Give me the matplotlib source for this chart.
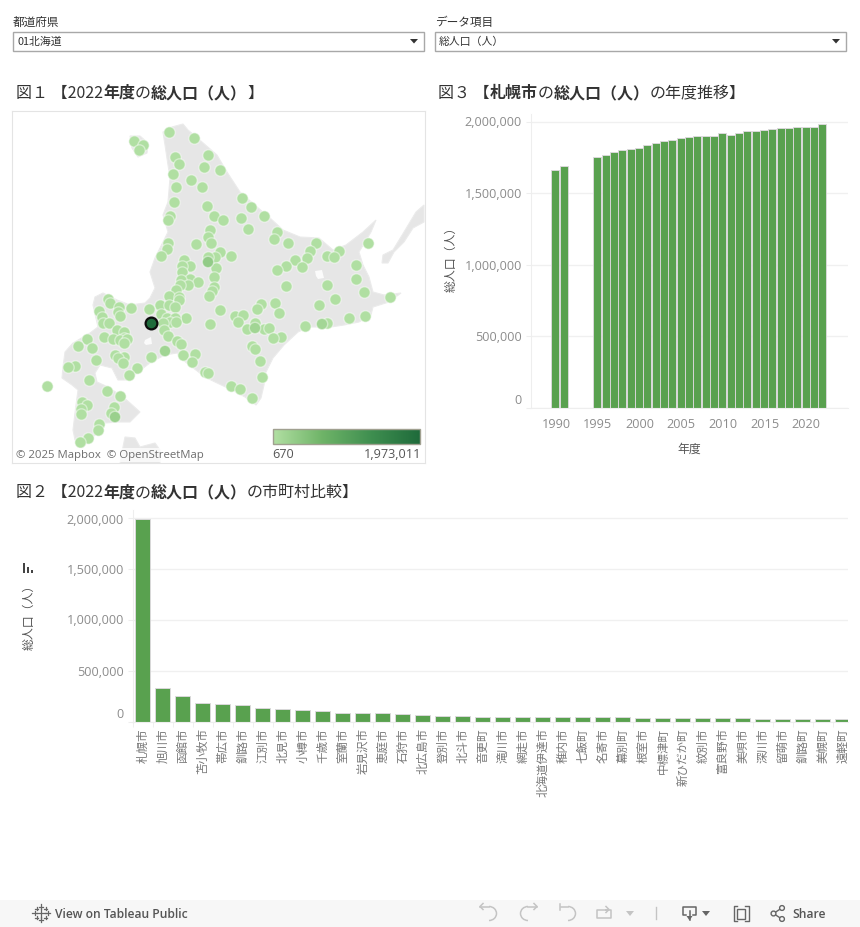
import numpy as np
import matplotlib
matplotlib.use('Agg')
import matplotlib.pyplot as plt
from matplotlib.colors import LinearSegmentedColormap, Normalize
from matplotlib.patches import Polygon, Rectangle, Arc, Circle
from matplotlib.transforms import blended_transform_factory

plt.rcParams['font.family'] = ['Noto Sans CJK JP', 'DejaVu Sans']

W, H = 860, 927
GREEN = '#59a14f'
TICK_FONT = ['Open Sans', 'Noto Sans CJK JP']
DARK = '#333333'

# ---- data ----
years = [1990, 1991, 1995, 1996, 1997, 1998, 1999, 2000, 2001, 2002, 2003, 2004, 2005, 2006, 2007, 2008,
         2009, 2010, 2011, 2012, 2013, 2014, 2015, 2016, 2017, 2018, 2019, 2020, 2021, 2022]
year_pop = [1652000, 1680000, 1743000, 1762000, 1778000, 1792000, 1799000, 1806000, 1827000, 1841000,
            1855000, 1862000, 1876000, 1883000, 1890000, 1890000, 1890000, 1911000, 1897000, 1911000,
            1925000, 1925000, 1932000, 1939000, 1946000, 1946000, 1953000, 1953000, 1953000, 1973011]

cities = ['札幌市', '旭川市', '函館市', '苫小牧市', '帯広市', '釧路市', '江別市', '北見市', '小樽市', '千歳市',
          '室蘭市', '岩見沢市', '恵庭市', '石狩市', '北広島市', '登別市', '北斗市', '音更町', '滝川市', '網走市',
          '北海道伊達市', '稚内市', '七飯町', '名寄市', '幕別町', '根室市', '中標津町', '新ひだか町', '紋別市',
          '富良野市', '美唄市', '深川市', '留萌市', '釧路町', '美幌町', '遠軽町']
city_pop = [1973011, 323000, 243000, 167000, 165000, 155000, 118000, 114000, 106000, 96000,
            78000, 77000, 69000, 59000, 56000, 46000, 45000, 38000, 38000, 33000,
            32000, 32000, 31000, 31000, 30000, 23000, 23000, 22000, 21000,
            20000, 20000, 19000, 19000, 19000, 18000, 18000]

town_x = [169, 194, 134, 143, 139, 208, 175, 179, 204, 220, 173, 191, 202, 176, 242, 251, 174, 207, 264, 214,
          223, 241, 170, 168, 248, 210, 277, 208, 274, 211, 168, 196, 288, 316, 368, 167, 310, 339, 220, 161,
          231, 327, 334, 215, 208, 307, 184, 295, 356, 286, 190, 182, 302, 216, 277, 182, 214, 356, 190, 181,
          198, 188, 180, 214, 286, 327, 212, 176, 364, 169, 209, 179, 390, 335, 108, 179, 110, 160, 169, 175,
          275, 261, 257, 319, 119, 131, 149, 220, 99, 118, 279, 161, 120, 235, 243, 102, 349, 365, 186, 167,
          175, 238, 170, 176, 255, 103, 109, 163, 210, 327, 305, 247, 264, 269, 117, 164, 124, 168, 104, 281,
          273, 113, 124, 87, 120, 127, 124, 177, 181, 78, 92, 252, 255, 195, 115, 124, 183, 151, 118, 96,
          260, 192, 123, 75, 68, 137, 205, 208, 129, 262, 89, 231, 47, 240, 107, 120, 252, 82, 87, 114,
          81, 111, 81, 99, 98, 88, 80]
town_y = [132, 138, 141, 145, 150, 155, 157, 164, 167, 170, 174, 180, 187, 187, 198, 207, 202, 206, 216, 216,
          220, 218, 216, 220, 229, 230, 232, 237, 239, 243, 243, 244, 243, 243, 243, 249, 251, 251, 252, 256,
          256, 256, 257, 257, 257, 258, 260, 260, 265, 266, 266, 266, 267, 268, 270, 272, 277, 279, 279, 280,
          282, 285, 285, 287, 286, 285, 291, 290, 292, 296, 296, 297, 297, 299, 299, 300, 303, 305, 305, 307,
          303, 304, 309, 305, 307, 308, 309, 310, 311, 312, 313, 314, 316, 316, 315, 317, 318, 316, 318, 318,
          318, 322, 322, 322, 323, 323, 323, 323, 324, 323, 326, 329, 329, 328, 330, 330, 332, 336, 337, 337,
          338, 339, 338, 339, 340, 339, 343, 341, 344, 346, 348, 346, 349, 354, 355, 357, 355, 357, 358, 360,
          361, 362, 363, 366, 367, 368, 372, 373, 375, 377, 380, 386, 386, 389, 391, 396, 398, 402, 405, 407,
          409, 413, 414, 424, 430, 438, 442]
town_pop = 20000

big_x = [208, 115, 165, 255, 322]
big_y = [262, 417, 351, 328, 324]
big_pop = [320000, 240000, 165000, 163000, 153000]
sapporo_x, sapporo_y = [151], [323]
sapporo_pop = [1973011]

land_x = [183, 188, 202, 217, 227, 240, 257, 270, 283, 300, 319, 333, 346, 363, 376, 371, 359, 363, 369, 373,
          384, 401, 389, 373, 371, 359, 344, 331, 309, 298, 284, 273, 266, 264, 261, 256, 245, 232, 215, 205,
          192, 183, 177, 165, 151, 137, 128, 118, 112, 100, 95, 97, 108, 123, 130, 140, 130, 118, 105, 97,
          82, 75, 73, 75, 78, 72, 62, 63, 65, 73, 90, 98, 93, 95, 103, 117, 130, 145, 150, 155,
          150, 155, 163, 168, 163, 168, 170, 168, 165, 163, 172]
land_y = [124, 130, 142, 155, 172, 192, 207, 218, 230, 237, 238, 250, 245, 232, 220, 232, 252, 265, 277, 292,
          295, 293, 302, 307, 315, 322, 325, 327, 327, 332, 345, 358, 372, 385, 398, 405, 397, 390, 382, 377,
          367, 360, 353, 355, 362, 373, 380, 380, 368, 365, 373, 382, 387, 397, 403, 412, 422, 422, 423, 433,
          448, 440, 430, 413, 390, 385, 378, 367, 352, 343, 333, 327, 305, 297, 293, 300, 305, 303, 298, 288,
          272, 258, 242, 232, 215, 202, 178, 165, 145, 132, 127]
kunashiri_x = [424, 416, 404, 393, 383, 382, 388, 394, 404, 413, 424]
kunashiri_y = [205, 212, 232, 250, 255, 263, 263, 252, 242, 228, 222]
aomori_x = [123, 125, 135, 140, 155, 160, 160, 120]
aomori_y = [447, 437, 438, 447, 443, 450, 464, 464]
rishiri_x = [130, 140, 148, 147, 138, 132]
rishiri_y = [136, 136, 143, 153, 157, 148]
# lakes on the land
shikotsu_x = [145, 151, 152, 146, 144]
shikotsu_y = [340, 337, 344, 345, 343]
kussharo_x = [315, 322, 324, 318, 316]
kussharo_y = [271, 270, 278, 279, 276]

# ---- helpers ----
fig = plt.figure(figsize=(W / 100, H / 100), dpi=100, facecolor='white')


def px_axes(x0, y0, x1, y1, **kw):
    return fig.add_axes([x0 / W, 1 - y1 / H, (x1 - x0) / W, (y1 - y0) / H], **kw)


ui = px_axes(0, 0, W, H)
ui.set_xlim(0, W)
ui.set_ylim(H, 0)
ui.axis('off')
ui.set_zorder(5)
ui.patch.set_alpha(0)


def rich_title(x, y, pieces, size=11.5):
    renderer = fig.canvas.get_renderer()
    for s, bold in pieces:
        t = ui.text(x, y, s, fontsize=size, color=DARK, va='center', ha='left',
                    fontweight='bold' if bold else 'normal')
        bb = t.get_window_extent(renderer)
        x += bb.width


def dropdown(x0, x1, label, value):
    ui.text(x0, 22, label, fontsize=8.4, color=DARK, va='center')
    ui.add_patch(Rectangle((x0, 31.5), x1 - x0 + 0.4, 19, fc='white', ec='#a8a8a8', lw=1))
    ui.text(x0 + 4, 42, value, fontsize=7.8, color=DARK, va='center')
    ui.add_patch(Polygon([(x1 - 14, 39), (x1 - 6, 39), (x1 - 10, 43.5)], fc='#333333', ec='none'))


def style_bar_axes(ax, ticks, labels, top_shift=0.0):
    for s in ['top', 'right']:
        ax.spines[s].set_visible(False)
    for s in ['left', 'bottom']:
        ax.spines[s].set_color('#eeeeee')
    ax.set_axisbelow(True)
    ax.yaxis.grid(True, color='#f0f0f0', lw=1)
    ax.set_yticks(ticks)
    ax.set_yticklabels(labels, fontsize=9.1, color='#8c8c8c', family=TICK_FONT)
    ax.tick_params(axis='y', length=3.5, color='#eeeeee', pad=2.5)
    tr = blended_transform_factory(ax.transAxes, ax.transData)
    ax.annotate('0', xy=(0, 0), xycoords=tr, xytext=(-6.2, 0.6), textcoords='offset points', ha='right',
                va='bottom', fontsize=9.1, color='#8c8c8c', family=TICK_FONT)
    ax.annotate('2,000,000', xy=(0, ticks[-1]), xycoords=tr, xytext=(-6.2, -top_shift), textcoords='offset points',
                ha='right', va='center', fontsize=9.1, color='#8c8c8c', family=TICK_FONT)


def bordered_bars(ax, x, y, width):
    # border drawn first so very short bars still show their green fill on top
    ax.bar(x, y, width=width, color='#d4d4d4', edgecolor='#d4d4d4', linewidth=1.3)
    ax.bar(x, y, width=width, color=GREEN, edgecolor='none')


pop_ticks = [0, 500000, 1000000, 1500000, 2000000]
pop_labels = ['', '500,000', '1,000,000', '1,500,000', '']

# ---- dropdowns and titles ----
dropdown(13, 424, '都道府県', '01北海道')
dropdown(435, 846, 'データ項目', '総人口（人）')
rich_title(16, 93, [('図１ 【2022', False), ('年度', True), ('の', False), ('総人口（人）', True), ('】', False)])
rich_title(438, 93, [('図３ 【', False), ('札幌市', True), ('の', False), ('総人口（人）', True), ('の年度推移】', False)])
rich_title(16, 492.5, [('図２ 【2022', False), ('年度', True), ('の', False), ('総人口（人）', True), ('の市町村比較】', False)])

# ---- map ----
cmap = LinearSegmentedColormap.from_list('pop', ['#b2e0a3', '#6fb468', '#3f8f50', '#1f6b3b'])
norm = Normalize(670, 1973011)
mp = px_axes(12, 111, 425, 463)
mp.set_xlim(12, 425)
mp.set_ylim(463, 111)
mp.set_xticks([])
mp.set_yticks([])
for s in mp.spines.values():
    s.set_color('#e4e4e4')
for lx, ly in [(land_x, land_y), (kunashiri_x, kunashiri_y), (aomori_x, aomori_y), (rishiri_x, rishiri_y)]:
    mp.add_patch(Polygon(np.column_stack([lx, ly]), fc='#e6e6e6', ec='#ebebeb', lw=0.8))
for lx, ly in [(shikotsu_x, shikotsu_y), (kussharo_x, kussharo_y)]:
    mp.add_patch(Polygon(np.column_stack([lx, ly]), fc='#fbfbfb', ec='none'))
halo = (1, 1, 1, 0.45)
mp.scatter(town_x, town_y, s=67, color=cmap(norm(town_pop)), edgecolors=halo, linewidths=1.0, zorder=3)
mp.scatter(big_x, big_y, s=67, c=big_pop, cmap=cmap, norm=norm, edgecolors=halo, linewidths=1.0, zorder=4)
mp.scatter(sapporo_x, sapporo_y, s=72, c=sapporo_pop, cmap=cmap, norm=norm, edgecolors='#0d0d0d',
           linewidths=1.6, zorder=5)

# map legend and credit
ui.imshow(np.linspace(0, 1, 256)[None, :], cmap=cmap, extent=(273, 420, 444, 429), aspect='auto', zorder=2)
ui.set_xlim(0, W)
ui.set_ylim(H, 0)
ui.add_patch(Rectangle((273, 429), 147, 15, fc='none', ec='#a0a090', lw=1, zorder=3))
ui.text(272.5, 454.5, '670', fontsize=9.1, color='#555555', va='center', family=TICK_FONT)
ui.text(421, 454.5, '1,973,011', fontsize=9.1, color='#555555', va='center', ha='right', family=TICK_FONT)
ui.add_patch(Rectangle((14, 448), 190, 13.5, fc='white', ec='none', alpha=0.75, zorder=2))
ui.text(16, 455, '© 2025 Mapbox  © OpenStreetMap', fontsize=8.2, color='#6e6e6e', va='center',
        family=TICK_FONT, zorder=3)

# ---- figure 3: yearly trend ----
ax3 = px_axes(530.5, 114, 848, 407.5)
bordered_bars(ax3, years, year_pop, 0.84)
ax3.set_xlim(1986.95, 2025)
ax3.set_ylim(0, 2000000 * (407.5 - 114) / (407.5 - 121.5))
style_bar_axes(ax3, pop_ticks, pop_labels, top_shift=0.6)
ax3.set_xticks([1990, 1995, 2000, 2005, 2010, 2015, 2020])
ax3.set_xticklabels(['1990', '1995', '2000', '2005', '2010', '2015', '2020'], fontsize=9.1, color='#8c8c8c',
                    family=TICK_FONT)
ax3.tick_params(axis='x', length=0, pad=7.5)
ui.text(689, 449, '年度', fontsize=8.6, color='#555555', ha='center', va='center')
ui.text(451, 256, '総人口（人）', fontsize=8.6, color='#555555', ha='center', va='center', rotation=90)

# ---- figure 2: municipalities ----
ax2 = px_axes(132.5, 510, 848, 721.5)
pos = np.arange(len(cities))
bordered_bars(ax2, pos, city_pop, 0.74)
ax2.set_xlim(-0.525, 35.25)
ax2.set_ylim(0, 2000000 * (721.5 - 510) / (721.5 - 517.5))
style_bar_axes(ax2, pop_ticks, pop_labels, top_shift=2.0)
ax2.set_xticks(pos)
ax2.set_xticklabels(cities, rotation=90, fontsize=8.3, color='#777777')
ax2.tick_params(axis='x', length=0, pad=5)
ax2.set_xticks(pos - 0.5, minor=True)
ax2.tick_params(axis='x', which='minor', length=3.5, color='#eeeeee')
ui.text(29, 614, '総人口（人）', fontsize=8.6, color='#555555', ha='center', va='center', rotation=90)
# sort icon next to the axis title
ui.add_patch(Rectangle((23, 563), 2, 10, fc='#444444', ec='none'))
ui.add_patch(Rectangle((27, 567), 2, 6, fc='#444444', ec='none'))
ui.add_patch(Rectangle((31, 570), 2, 3, fc='#444444', ec='none'))

# ---- toolbar ----
ui.add_patch(Rectangle((0, 900), W, 27, fc='#f7f7f7', ec='none', zorder=1))
GR = '#666666'
LG = '#c4c4c4'
# tableau cross logo
for cx, cy, r in [(41, 913, 4.5), (41, 906.5, 2.2), (41, 919.5, 2.2), (34.5, 913, 2.2), (47.5, 913, 2.2),
                  (36.5, 908.5, 1.6), (45.5, 908.5, 1.6), (36.5, 917.5, 1.6), (45.5, 917.5, 1.6)]:
    ui.plot([cx - r, cx + r], [cy, cy], color=GR, lw=0.9, zorder=3)
    ui.plot([cx, cx], [cy - r, cy + r], color=GR, lw=0.9, zorder=3)
ui.text(55, 914, 'View on Tableau Public', fontsize=8.7, color='#555555', va='center', family=TICK_FONT,
        fontweight='semibold', zorder=3)
ui.text(792, 914, 'Share', fontsize=8.7, color='#555555', va='center', family=TICK_FONT,
        fontweight='semibold', zorder=3)
# undo / redo / revert / refresh
ui.add_patch(Arc((489, 913.5), 15, 14, theta1=-90, theta2=90, ec=LG, lw=1.1, zorder=3))
ui.plot([480, 489], [906.5, 906.5], color=LG, lw=1.1, zorder=3)
ui.plot([483, 480, 483], [903.5, 906.5, 909.5], color=LG, lw=1.1, zorder=3)
ui.add_patch(Arc((528, 913.5), 15, 14, theta1=90, theta2=270, ec=LG, lw=1.1, zorder=3))
ui.plot([528, 537], [906.5, 906.5], color=LG, lw=1.1, zorder=3)
ui.plot([534, 537, 534], [903.5, 906.5, 909.5], color=LG, lw=1.1, zorder=3)
ui.add_patch(Arc((568, 913.5), 15, 14, theta1=-90, theta2=90, ec=LG, lw=1.1, zorder=3))
ui.plot([561, 568], [906.5, 906.5], color=LG, lw=1.1, zorder=3)
ui.plot([560, 560], [904, 910], color=LG, lw=1.1, zorder=3)
ui.plot([608, 597, 597, 611, 611, 606], [909.5, 909.5, 917.5, 917.5, 909.5, 909.5], color=LG, lw=1.1, zorder=3)
ui.plot([606, 609, 606], [906.5, 909.5, 912.5], color=LG, lw=1.1, zorder=3)
ui.add_patch(Polygon([(626, 911), (634, 911), (630, 916)], fc=LG, ec='none', zorder=3))
ui.plot([655.5, 655.5], [907, 919], color=LG, lw=1, zorder=3)
# download
ui.plot([686, 683, 683, 696, 696, 693], [915, 915, 906.5, 906.5, 915, 915], color=GR, lw=1.1, zorder=3)
ui.plot([689.5, 689.5], [911, 920], color=GR, lw=1.1, zorder=3)
ui.add_patch(Polygon([(686.5, 916), (692.5, 916), (689.5, 920.5)], fc=GR, ec='none', zorder=3))
ui.add_patch(Polygon([(702, 911), (710, 911), (706, 916)], fc=GR, ec='none', zorder=3))
# fullscreen
ui.add_patch(Rectangle((737, 908.5), 8, 10, fc='none', ec=GR, lw=1, zorder=3))
for x1, x2 in [(733.5, 737), (748.5, 745)]:
    ui.plot([x2, x1, x1, x2], [905.5, 905.5, 921, 921], color=GR, lw=1, zorder=3)
# share
ui.plot([781, 773.5, 781], [908.5, 913.5, 918.5], color=GR, lw=1, zorder=3)
for cx, cy in [(773.5, 913.5), (782, 908), (782, 919)]:
    ui.add_patch(Circle((cx, cy), 2.4, fc='#f7f7f7', ec=GR, lw=1, zorder=4))

fig.savefig('out.png', dpi=100)
